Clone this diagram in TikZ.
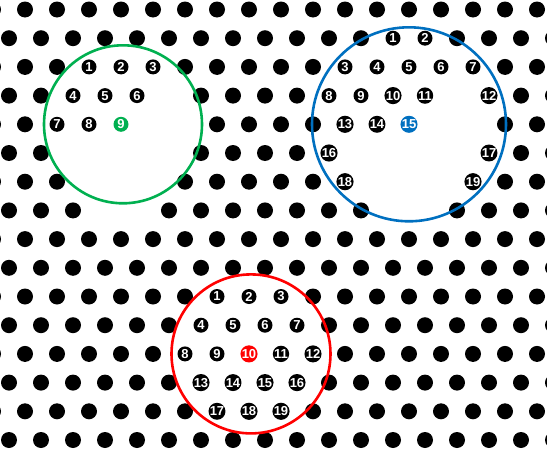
\documentclass[tikz,border=0pt]{standalone}
\usepackage{fontspec}
\setmainfont{Liberation Sans}
\definecolor{ringgreen}{HTML}{00B050}
\definecolor{ringblue}{HTML}{0070C0}
\definecolor{ringred}{HTML}{FF0000}
\newcommand\skipdot[2]{\expandafter\def\csname skd-#1-#2\endcsname{}}
% green neighbourhood
\skipdot{5}{2}\skipdot{7}{2}\skipdot{9}{2}
\skipdot{4}{3}\skipdot{6}{3}\skipdot{8}{3}\skipdot{10}{3}
\skipdot{3}{4}\skipdot{5}{4}\skipdot{7}{4}\skipdot{9}{4}\skipdot{11}{4}
\skipdot{4}{5}\skipdot{6}{5}\skipdot{8}{5}\skipdot{10}{5}
\skipdot{5}{6}\skipdot{7}{6}\skipdot{9}{6}
\skipdot{6}{7}\skipdot{8}{7}
% blue neighbourhood
\skipdot{24}{1}\skipdot{26}{1}
\skipdot{21}{2}\skipdot{23}{2}\skipdot{25}{2}\skipdot{27}{2}\skipdot{29}{2}
\skipdot{20}{3}\skipdot{22}{3}\skipdot{24}{3}\skipdot{26}{3}\skipdot{28}{3}\skipdot{30}{3}
\skipdot{21}{4}\skipdot{23}{4}\skipdot{25}{4}\skipdot{27}{4}\skipdot{29}{4}
\skipdot{20}{5}\skipdot{22}{5}\skipdot{24}{5}\skipdot{26}{5}\skipdot{28}{5}\skipdot{30}{5}
\skipdot{21}{6}\skipdot{23}{6}\skipdot{25}{6}\skipdot{27}{6}\skipdot{29}{6}
\skipdot{24}{7}\skipdot{26}{7}
% red neighbourhood
\skipdot{13}{10}\skipdot{15}{10}\skipdot{17}{10}
\skipdot{12}{11}\skipdot{14}{11}\skipdot{16}{11}\skipdot{18}{11}
\skipdot{11}{12}\skipdot{13}{12}\skipdot{15}{12}\skipdot{17}{12}\skipdot{19}{12}
\skipdot{12}{13}\skipdot{14}{13}\skipdot{16}{13}\skipdot{18}{13}
\skipdot{13}{14}\skipdot{15}{14}\skipdot{17}{14}
\newcommand\lat[2]{({9+16*(#1)},{-9.5-28.7*(#2)})}
\newcommand\numdot[5]{\node[numdot,fill=#5] (#1) at \lat{#2}{#3} {#4};}
\begin{document}
\begin{tikzpicture}[x=1pt,y=1pt,
  latdot/.style={fill=black},
  numdot/.style={circle,inner sep=0pt,minimum size=15pt,text=white,
    font=\fontsize{13}{13}\selectfont\bfseries},
  ring/.style={line width=2.6pt}]
\useasboundingbox (0,0) rectangle (547,-450);
\fill[white] (0,0) rectangle (547,-450);
\foreach \j in {0,...,15}{
  \foreach \i in {-1,...,34}{
    \pgfmathtruncatemacro\parity{mod(\i+\j+2,2)}
    \ifnum\parity=1
      \ifcsname skd-\i-\j\endcsname\else
        \fill[latdot] \lat{\i}{\j} circle (8);
      \fi
    \fi
  }
}
% green
\numdot{g1}{5}{2}{1}{black}\numdot{g2}{7}{2}{2}{black}\numdot{g3}{9}{2}{3}{black}
\numdot{g4}{4}{3}{4}{black}\numdot{g5}{6}{3}{5}{black}\numdot{g6}{8}{3}{6}{black}
\numdot{g7}{3}{4}{7}{black}\numdot{g8}{5}{4}{8}{black}\numdot{g9}{7}{4}{9}{ringgreen}
% blue
\numdot{b1}{24}{1}{1}{black}\numdot{b2}{26}{1}{2}{black}
\numdot{b3}{21}{2}{3}{black}\numdot{b4}{23}{2}{4}{black}\numdot{b5}{25}{2}{5}{black}
\numdot{b6}{27}{2}{6}{black}\numdot{b7}{29}{2}{7}{black}
\numdot{b8}{20}{3}{8}{black}\numdot{b9}{22}{3}{9}{black}\numdot{b10}{24}{3}{10}{black}
\numdot{b11}{26}{3}{11}{black}\numdot{b12}{30}{3}{12}{black}
\numdot{b13}{21}{4}{13}{black}\numdot{b14}{23}{4}{14}{black}\numdot{b15}{25}{4}{15}{ringblue}
\numdot{b16}{20}{5}{16}{black}\numdot{b17}{30}{5}{17}{black}
\numdot{b18}{21}{6}{18}{black}\numdot{b19}{29}{6}{19}{black}
% red
\numdot{r1}{13}{10}{1}{black}\numdot{r2}{15}{10}{2}{black}\numdot{r3}{17}{10}{3}{black}
\numdot{r4}{12}{11}{4}{black}\numdot{r5}{14}{11}{5}{black}\numdot{r6}{16}{11}{6}{black}
\numdot{r7}{18}{11}{7}{black}
\numdot{r8}{11}{12}{8}{black}\numdot{r9}{13}{12}{9}{black}\numdot{r10}{15}{12}{10}{ringred}
\numdot{r11}{17}{12}{11}{black}\numdot{r12}{19}{12}{12}{black}
\numdot{r13}{12}{13}{13}{black}\numdot{r14}{14}{13}{14}{black}\numdot{r15}{16}{13}{15}{black}
\numdot{r16}{18}{13}{16}{black}
\numdot{r17}{13}{14}{17}{black}\numdot{r18}{15}{14}{18}{black}\numdot{r19}{17}{14}{19}{black}
% rings
\draw[ring,ringgreen] ([xshift=2pt]g9.center) circle (79);
\draw[ring,ringblue] (b15.center) circle (97);
\draw[ring,ringred] ([xshift=2pt]r10.center) circle (79.5);
\end{tikzpicture}
\end{document}
